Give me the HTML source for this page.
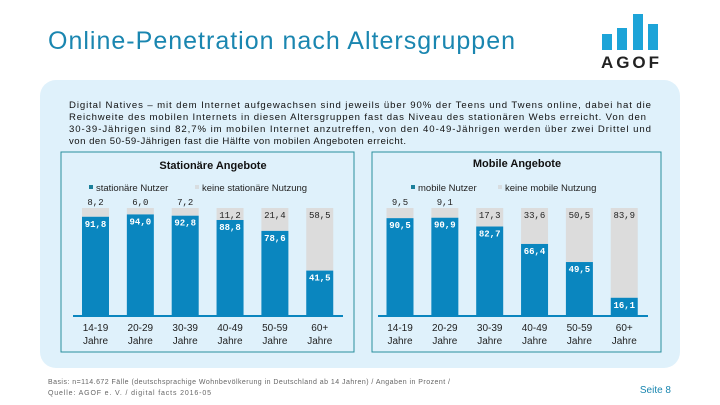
<!DOCTYPE html>
<html><head><meta charset="utf-8"><style>
html,body{margin:0;padding:0;background:#fff;}
svg{display:block;font-family:"Liberation Sans",sans-serif;}
</style></head><body>
<svg id="s" width="720" height="405" viewBox="0 0 720 405" xmlns="http://www.w3.org/2000/svg">
<text x="48" y="49" font-size="25" fill="#1a86b0" textLength="467">Online-Penetration nach Altersgruppen</text>
<g>
<rect x="602" y="34" width="10" height="16" fill="#1da4d8"/>
<rect x="617" y="28" width="10" height="22" fill="#1da4d8"/>
<rect x="633" y="14" width="10" height="36" fill="#1da4d8"/>
<rect x="648" y="24" width="10" height="26" fill="#1da4d8"/>
<text x="630" y="68" font-size="17" font-weight="bold" fill="#222" text-anchor="middle" textLength="58">AGOF</text>
</g>
<rect x="40" y="80" width="640" height="288" rx="16" fill="#dff1fb"/>
<g font-size="9.6" fill="#111">
<text x="69" y="108" textLength="582">Digital Natives – mit dem Internet aufgewachsen sind jeweils über 90% der Teens und Twens online, dabei hat die</text>
<text x="69" y="120" textLength="577">Reichweite des mobilen Internets in diesen Altersgruppen fast das Niveau des stationären Webs erreicht. Von den</text>
<text x="69" y="132" textLength="582">30-39-Jährigen sind 82,7% im mobilen Internet anzutreffen, von den 40-49-Jährigen werden über zwei Drittel und</text>
<text x="69" y="144" textLength="337">von den 50-59-Jährigen fast die Hälfte von mobilen Angeboten erreicht.</text>
</g>
<rect x="61" y="152" width="293" height="200" fill="none" stroke="#2a8e9c" stroke-width="1"/>
<rect x="372" y="152" width="289" height="200" fill="none" stroke="#2a8e9c" stroke-width="1"/>
<text x="213" y="169" font-size="11" font-weight="bold" text-anchor="middle" fill="#111">Stationäre Angebote</text>
<text x="517" y="167" font-size="11" font-weight="bold" text-anchor="middle" fill="#111">Mobile Angebote</text>
<g font-size="9.5" fill="#222">
<rect x="89" y="185" width="4" height="4" fill="#1a7f9a"/><text x="96" y="191">stationäre Nutzer</text>
<rect x="195" y="185" width="4" height="4" fill="#d8dde0"/><text x="202" y="191">keine stationäre Nutzung</text>
</g>
<g font-size="9.5" fill="#222">
<rect x="411" y="185" width="4" height="4" fill="#1a7f9a"/><text x="418" y="191">mobile Nutzer</text>
<rect x="498" y="185" width="4" height="4" fill="#d8dde0"/><text x="505" y="191">keine mobile Nutzung</text>
</g>
<g id="charts"></g>
<g font-size="7" fill="#666">
<text x="48" y="384" textLength="402">Basis: n=114.672 Fälle (deutschsprachige Wohnbevölkerung in Deutschland ab 14 Jahren) / Angaben in Prozent /</text>
<text x="48" y="395" textLength="163">Quelle: AGOF e. V. / digital facts 2016-05</text>
</g>
<text x="671" y="393" font-size="10" fill="#1a86b0" text-anchor="end">Seite 8</text>
</svg>
<script>
const categories = ["14-19","20-29","30-39","40-49","50-59","60+"];
const stationaryUsers = [91.8, 94.0, 92.8, 88.8, 78.6, 41.5];
const stationaryNonUsers = [8.2, 6.0, 7.2, 11.2, 21.4, 58.5];
const mobileUsers = [90.5, 90.9, 82.7, 66.4, 49.5, 16.1];
const mobileNonUsers = [9.5, 9.1, 17.3, 33.6, 50.5, 83.9];

const NS = "http://www.w3.org/2000/svg";
const root = document.getElementById("charts");
function mk(tag, attrs, parent){const e=document.createElementNS(NS,tag);for(const k in attrs)e.setAttribute(k,attrs[k]);parent.appendChild(e);return e;}
function fmt(v){return v.toFixed(1).replace(".",",");}

function drawChart(name, x0, axisL, axisR, users, non){
  const g = mk("g",{},root);
  
  
  const base = 315, top = 208, step = 44.85, bw = 27;
  const y = v => base - (v/100)*(base-top);
  const xc = i => x0 + i*step;
  categories.forEach((c,i)=>{
    const cx = xc(i);
    const total = users[i] + non[i];
    const gr = mk("rect",{x:cx-bw/2,y:y(total),width:bw,height:y(users[i])-y(total),fill:"#dcdcdc"},g);
    
    
    const bl = mk("rect",{x:cx-bw/2,y:y(users[i]),width:bw,height:base-y(users[i]),fill:"#0a86bf"},g);
    
    
    const small = non[i] < 10;
    const t1 = mk("text",{x:cx,y: small ? y(total)-3 : y(total)+10,"font-size":9,"text-anchor":"middle",fill:"#222","font-family":"Liberation Mono, monospace"},g);
    t1.textContent = fmt(non[i]);
    
    
    const t2 = mk("text",{x:cx,y:y(users[i])+10,"font-size":9,"font-weight":"bold","text-anchor":"middle",fill:"#fff","font-family":"Liberation Mono, monospace"},g);
    t2.textContent = fmt(users[i]);
    
    
    const l1 = mk("text",{x:cx,y:331,"font-size":10,"text-anchor":"middle",fill:"#222"},g);
    l1.textContent = c;
    
    
    const l2 = mk("text",{x:cx,y:344,"font-size":10,"text-anchor":"middle",fill:"#222"},g);
    l2.textContent = "Jahre";
    
    
  });
  const ax = mk("line",{x1:axisL,x2:axisR,y1:base+1,y2:base+1,stroke:"#0a86bf","stroke-width":2},g);
  
  
}
drawChart("stationary-chart", 95.5, 73, 343, stationaryUsers, stationaryNonUsers);
drawChart("mobile-chart", 400, 378, 648, mobileUsers, mobileNonUsers);
</script>
</body></html>
